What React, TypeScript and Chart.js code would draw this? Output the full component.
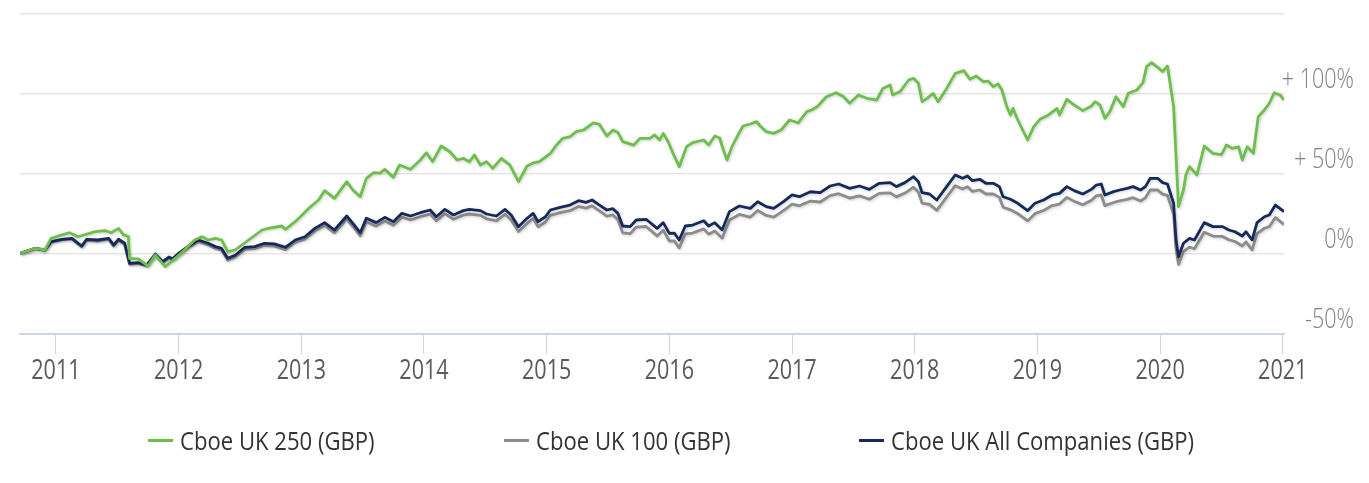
import React, { useEffect, useRef } from 'react';
import { Chart, registerables } from 'chart.js';

Chart.register(...registerables);

const seriesNames = ['Cboe UK 250 (GBP)', 'Cboe UK 100 (GBP)', 'Cboe UK All Companies (GBP)'];
const seriesColors = ['#6dbf4b', '#8c8c8c', '#16295a'];

const xTickYears = [2011, 2012, 2013, 2014, 2015, 2016, 2017, 2018, 2019, 2020, 2021];
const yTickValues = [-50, 0, 50, 100, 150];

const greenYears = [
  2010.71, 2010.83, 2010.91, 2010.96, 2011.05, 2011.11, 2011.18, 2011.32, 2011.40, 2011.45,
  2011.51, 2011.55, 2011.59, 2011.60, 2011.67, 2011.75, 2011.81, 2011.89, 2011.94, 2012.02,
  2012.13, 2012.19, 2012.24, 2012.30, 2012.35, 2012.40, 2012.46, 2012.57, 2012.68, 2012.73,
  2012.84, 2012.87, 2012.95, 2013.06, 2013.14, 2013.19, 2013.27, 2013.37, 2013.42, 2013.48,
  2013.53, 2013.59, 2013.64, 2013.68, 2013.75, 2013.80, 2013.89, 2013.97, 2014.02, 2014.07,
  2014.14, 2014.21, 2014.27, 2014.32, 2014.37, 2014.41, 2014.46, 2014.51, 2014.56, 2014.63,
  2014.70, 2014.77, 2014.84, 2014.89, 2014.94, 2015.03, 2015.08, 2015.13, 2015.19, 2015.24,
  2015.30, 2015.38, 2015.43, 2015.49, 2015.54, 2015.58, 2015.62, 2015.71, 2015.76, 2015.84,
  2015.88, 2015.92, 2015.95, 2015.99, 2016.03, 2016.08, 2016.11, 2016.14, 2016.19, 2016.28,
  2016.32, 2016.37, 2016.41, 2016.44, 2016.47, 2016.51, 2016.56, 2016.60, 2016.66, 2016.71,
  2016.74, 2016.79, 2016.85, 2016.91, 2016.98, 2017.05, 2017.12, 2017.17, 2017.21, 2017.28,
  2017.36, 2017.42, 2017.47, 2017.54, 2017.61, 2017.69, 2017.74, 2017.80, 2017.82, 2017.88,
  2017.95, 2017.99, 2018.03, 2018.06, 2018.10, 2018.15, 2018.19, 2018.26, 2018.33, 2018.40,
  2018.45, 2018.50, 2018.56, 2018.60, 2018.64, 2018.68, 2018.71, 2018.75, 2018.78, 2018.80,
  2018.84, 2018.88, 2018.92, 2018.97, 2019.02, 2019.09, 2019.16, 2019.18, 2019.24, 2019.30,
  2019.37, 2019.44, 2019.47, 2019.51, 2019.55, 2019.59, 2019.64, 2019.70, 2019.74, 2019.81,
  2019.86, 2019.89, 2019.93, 2019.98, 2020.02, 2020.06, 2020.11, 2020.15, 2020.19, 2020.21,
  2020.24, 2020.30, 2020.36, 2020.43, 2020.50, 2020.54, 2020.59, 2020.64, 2020.67, 2020.71,
  2020.76, 2020.80, 2020.85, 2020.89, 2020.93, 2020.98, 2021.01,
];
const greenValues = [
  0.4, 3.5, 2.5, 9.8, 11.9, 13.3, 10.8, 14, 14.6, 13.3,
  16, 12, 11, -2.7, -3, -7.5, -0.6, -7.9, -4.8, 0.4,
  8.75, 10.8, 8.75, 9.8, 8.75, 1.5, 2.5, 8.75, 15, 16,
  17.5, 15.4, 20.2, 28.5, 33.75, 39.6, 34.8, 45.2, 40, 35.8,
  47.3, 50.8, 50.6, 52.9, 47.9, 55.6, 52.9, 58.75, 63.3, 57.7,
  67.5, 63.9, 58.75, 59.8, 57.7, 61.9, 55.6, 57.7, 53.5, 59.8,
  55.6, 45.2, 55, 56.9, 57.7, 62.9, 68.1, 72.3, 73.3, 76.5,
  77.5, 82, 81, 73.75, 77.5, 76, 70.2, 68.1, 72.3, 72.3,
  74.4, 71.25, 75.4, 70.2, 62.9, 54.6, 60.8, 67.1, 69.6, 71.25,
  68.1, 73.75, 72.5, 65, 58.75, 67.1, 74.4, 80, 81.25, 82.7,
  80, 76.5, 75.4, 77.5, 83.75, 82, 89, 90.4, 92.5, 98.3,
  100.8, 98.3, 94.2, 99.4, 97.3, 96.25, 103.5, 105.6, 99.4, 101.5,
  108.75, 109.8, 106.7, 95.2, 97.3, 100.4, 95.2, 103.5, 112.9, 114.6,
  109.2, 111.25, 107.7, 108, 104.6, 106.3, 102.5, 92.1, 86.9, 91,
  83.75, 77.5, 71.25, 79.6, 84.2, 86.9, 91, 86.9, 96.7, 93.1,
  89.6, 92.5, 95.2, 93.1, 84.8, 89, 98.3, 92.1, 100.4, 102.5,
  107.1, 117.1, 119.6, 116.7, 114, 117.5, 92.1, 29.6, 40, 49.4,
  54.6, 49.4, 67.5, 62.9, 62.1, 68.1, 66, 67, 58.75, 67,
  62.9, 85.8, 90, 94.2, 100.8, 99.2, 96.25,
];

const allCoYears = [
  2010.71, 2010.83, 2010.91, 2010.96, 2011.05, 2011.13, 2011.21, 2011.25, 2011.34, 2011.43,
  2011.47, 2011.51, 2011.56, 2011.60, 2011.67, 2011.74, 2011.81, 2011.87, 2011.92, 2011.95,
  2012.00, 2012.08, 2012.16, 2012.24, 2012.30, 2012.35, 2012.40, 2012.46, 2012.54, 2012.62,
  2012.70, 2012.78, 2012.87, 2012.95, 2013.03, 2013.11, 2013.19, 2013.27, 2013.37, 2013.42,
  2013.48, 2013.53, 2013.61, 2013.68, 2013.75, 2013.82, 2013.89, 2013.97, 2014.05, 2014.10,
  2014.17, 2014.24, 2014.32, 2014.37, 2014.46, 2014.51, 2014.59, 2014.66, 2014.71, 2014.77,
  2014.84, 2014.89, 2014.93, 2014.99, 2015.03, 2015.11, 2015.19, 2015.26, 2015.32, 2015.37,
  2015.43, 2015.49, 2015.54, 2015.58, 2015.62, 2015.68, 2015.73, 2015.81, 2015.85, 2015.90,
  2015.95, 2016.00, 2016.04, 2016.08, 2016.13, 2016.19, 2016.28, 2016.32, 2016.37, 2016.43,
  2016.49, 2016.57, 2016.66, 2016.72, 2016.79, 2016.85, 2016.93, 2017.00, 2017.06, 2017.15,
  2017.23, 2017.31, 2017.38, 2017.47, 2017.55, 2017.63, 2017.71, 2017.80, 2017.85, 2017.92,
  2017.99, 2018.03, 2018.06, 2018.12, 2018.18, 2018.26, 2018.33, 2018.39, 2018.43, 2018.47,
  2018.53, 2018.58, 2018.64, 2018.69, 2018.72, 2018.78, 2018.84, 2018.92, 2018.98, 2019.05,
  2019.12, 2019.18, 2019.24, 2019.30, 2019.37, 2019.44, 2019.48, 2019.52, 2019.55, 2019.62,
  2019.67, 2019.73, 2019.78, 2019.84, 2019.88, 2019.92, 2019.98, 2020.02, 2020.06, 2020.11,
  2020.13, 2020.15, 2020.19, 2020.24, 2020.28, 2020.36, 2020.43, 2020.51, 2020.56, 2020.61,
  2020.67, 2020.70, 2020.75, 2020.79, 2020.85, 2020.89, 2020.94, 2021.01,
];
const allCoValues = [
  0.4, 3.5, 2.5, 7.7, 9.2, 9.8, 5, 9.2, 8.75, 9.8,
  5.6, 9.2, 6.7, -5.8, -5.4, -6.9, 0, -4.8, -1.9, -3,
  0.4, 5, 8.75, 6.7, 4.6, 3.5, -2.7, -0.8, 4.2, 4.6,
  6.7, 6.3, 4.2, 8.75, 10.8, 16, 19.6, 15, 23.75, 19.2,
  13.3, 22.3, 19.6, 22.9, 20.2, 25.4, 23.75, 25.8, 27.5, 23.3,
  27.9, 24.4, 27.1, 27.9, 27.1, 25, 23.75, 27.9, 24.4, 17.1,
  22.3, 25.4, 20.2, 23.3, 27.5, 29.2, 30.6, 33.3, 32.3, 33.75,
  30.6, 27.5, 28.3, 25.4, 17.5, 17.1, 21.25, 21.7, 19.2, 16,
  19.6, 12.9, 13.1, 8.75, 17.5, 18.1, 20.8, 17.5, 19.6, 15,
  26.5, 30, 28.5, 32.7, 29.6, 28.5, 32.7, 36.9, 35.8, 38.9,
  38.4, 42.5, 43.75, 41, 42.5, 40.4, 44.2, 44.6, 42.1, 44.6,
  48.3, 45.2, 38.3, 37.5, 33.75, 42.1, 49.4, 47.3, 48.8, 45.8,
  46.7, 44.2, 44.2, 42.1, 35.8, 34.2, 31.7, 27.1, 31.7, 33.75,
  36.9, 37.9, 42.1, 39.6, 37.5, 40.4, 43.1, 43.75, 36.9, 39,
  40, 41, 42.1, 40, 42.1, 47.3, 47.3, 44.6, 43.75, 31.7,
  8.75, -1.7, 6.7, 9.8, 8.75, 19.6, 17.1, 17.1, 15, 13.9,
  11.25, 13.9, 8.75, 19.6, 23.3, 24.4, 30.6, 26.5,
];
const uk100Values = [
  0.4, 3.3, 2.2, 7.3, 8.8, 9.3, 4.5, 8.6, 8.1, 9.1,
  4.9, 8.5, 6.0, -6.4, -6.0, -7.5, -0.7, -5.5, -2.7, -3.8,
  -0.5, 4.0, 7.7, 5.6, 3.5, 2.4, -3.9, -2.0, 2.9, 3.3,
  5.3, 4.9, 2.7, 7.2, 9.2, 14.3, 17.8, 13.2, 21.8, 17.2,
  11.3, 20.2, 17.4, 20.6, 17.9, 23.0, 21.3, 23.3, 24.9, 20.7,
  25.2, 21.7, 24.3, 25.0, 24.2, 22.0, 20.7, 24.8, 21.3, 14.0,
  19.1, 22.2, 17.0, 20.0, 24.2, 25.8, 27.1, 29.7, 28.7, 30.1,
  26.9, 23.7, 24.4, 21.4, 13.2, 12.7, 16.8, 17.2, 14.6, 11.3,
  14.9, 8.1, 8.2, 3.8, 12.6, 13.1, 15.7, 12.4, 14.4, 9.8,
  21.3, 24.7, 23.1, 27.2, 24.1, 23.0, 27.1, 31.2, 30.1, 33.1,
  32.5, 36.5, 37.7, 34.9, 36.3, 34.2, 37.9, 38.2, 35.7, 38.1,
  41.7, 38.6, 31.8, 31.0, 27.3, 35.5, 42.7, 40.6, 42.1, 39.1,
  40.0, 37.5, 37.5, 35.4, 29.2, 27.6, 25.2, 20.7, 25.2, 27.2,
  30.3, 31.2, 35.4, 32.9, 30.8, 33.6, 36.3, 36.9, 30.2, 32.2,
  33.2, 34.1, 35.2, 33.1, 35.1, 40.1, 40.0, 37.4, 36.6, 25.0,
  3.0, -6.5, 1.5, 4.3, 3.3, 13.6, 11.2, 11.0, 8.9, 7.8,
  5.0, 7.6, 2.6, 12.8, 16.1, 17.1, 22.8, 18.4,
];

const FONT = "'Open Sans', 'Noto Sans', sans-serif";
const TEXT_SQUEEZE = 0.77;

// Line shadow, like the reference's soft halo round each line
const shadowPlugin = {
  id: 'lineShadow',
  beforeDatasetDraw(chart: any) {
    const ctx = chart.ctx;
    ctx.save();
    ctx.shadowColor = 'rgba(0,0,0,0.2)';
    ctx.shadowBlur = 3;
    ctx.shadowOffsetX = 1;
    ctx.shadowOffsetY = 1;
  },
  afterDatasetDraw(chart: any) {
    chart.ctx.restore();
  },
};

// Draw the axis labels horizontally condensed (real text, drawn with a maxWidth)
const squeezePlugin = {
  id: 'squeezeText',
  beforeDraw(chart: any) {
    const ctx = chart.ctx;
    const proto = Object.getPrototypeOf(ctx);
    const orig = proto.fillText;
    ctx.fillText = function (text: string, x: number, y: number, maxWidth?: number) {
      const w = this.measureText(text).width * TEXT_SQUEEZE;
      const mw = maxWidth !== undefined ? Math.min(maxWidth, w) : w;
      return orig.call(this, text, x, y, mw);
    };
  },
  afterDraw(chart: any) {
    delete chart.ctx.fillText;
  },
};

export default function App() {
  const canvasRef = useRef<HTMLCanvasElement | null>(null);

  useEffect(() => {
    if (!canvasRef.current) return;
    const toPts = (xs: number[], ys: number[]) => xs.map((x, i) => ({ x, y: ys[i] }));
    const chart = new Chart(canvasRef.current, {
      type: 'line',
      data: {
        datasets: [
          { label: seriesNames[0], data: toPts(greenYears, greenValues), borderColor: seriesColors[0], order: 1 },
          { label: seriesNames[2], data: toPts(allCoYears, allCoValues), borderColor: seriesColors[2], order: 2 },
          { label: seriesNames[1], data: toPts(allCoYears, uk100Values), borderColor: seriesColors[1], order: 3 },
        ].map((d) => ({ ...d, borderWidth: 2.8, pointRadius: 0, tension: 0, fill: false, borderJoinStyle: 'round' as const })),
      },
      options: {
        animation: false,
        responsive: true,
        maintainAspectRatio: false,
        layout: { padding: { left: 20, top: 14, right: 14, bottom: 89 } },
        plugins: { legend: { display: false }, tooltip: { enabled: false } },
        scales: {
          x: {
            type: 'linear',
            min: 2010.707,
            max: 2021.01,
            afterBuildTicks: (s: any) => {
              s.ticks = xTickYears.map((v) => ({ value: v }));
            },
            afterFit: (s: any) => {
              s.height = 60;
            },
            grid: { drawOnChartArea: false, color: '#ccd6eb', tickLength: 20, lineWidth: 1 },
            border: { color: '#ccd6eb', width: 2 },
            ticks: {
              color: '#5a5a5a',
              font: { family: FONT, size: 28, weight: 'normal' },
              padding: 0,
              maxRotation: 0,
              autoSkip: false,
              callback: (v: any) => String(v),
            },
          },
          y: {
            position: 'right',
            min: -50,
            max: 150,
            afterBuildTicks: (s: any) => {
              s.ticks = yTickValues.map((v) => ({ value: v }));
            },
            afterFit: (s: any) => {
              s.width = 71;
              s.paddingTop = 0;
              s.paddingBottom = 0;
            },
            grid: { color: '#e6e6e6', lineWidth: 1.5, drawTicks: false },
            border: { display: false },
            ticks: {
              color: '#808080',
              font: { family: FONT, size: 28, weight: 300 as any },
              mirror: true,
              crossAlign: 'near',
              padding: 70,
              labelOffset: -14,
              callback: (v: any) => (v === 150 ? '' : v > 0 ? '+ ' + v + '%' : v + '%'),
            },
          },
        },
      },
      plugins: [shadowPlugin, squeezePlugin],
    });
    return () => chart.destroy();
  }, []);

  const legendLefts = [148, 504, 859];
  const legendOrder = [0, 1, 2];

  return (
    <div style={{ position: 'fixed', left: 0, top: 0, width: 1369, height: 483, background: '#ffffff' }}>
      <canvas ref={canvasRef} style={{ position: 'absolute', left: 0, top: 0, width: 1369, height: 483 }} />
      {legendOrder.map((i, k) => (
        <div
          key={i}
          style={{
            position: 'absolute',
            left: legendLefts[k],
            top: 424,
            height: 32,
            display: 'flex',
            alignItems: 'center',
            whiteSpace: 'nowrap',
          }}
        >
          <span style={{ display: 'inline-block', width: 25, height: 3, background: seriesColors[i], marginRight: 7 }} />
          <span
            style={{
              display: 'inline-block',
              fontFamily: FONT,
              fontSize: 26,
              color: '#333333',
              transform: 'scaleX(0.85)',
              transformOrigin: 'left center',
            }}
          >
            {seriesNames[i]}
          </span>
        </div>
      ))}
    </div>
  );
}
